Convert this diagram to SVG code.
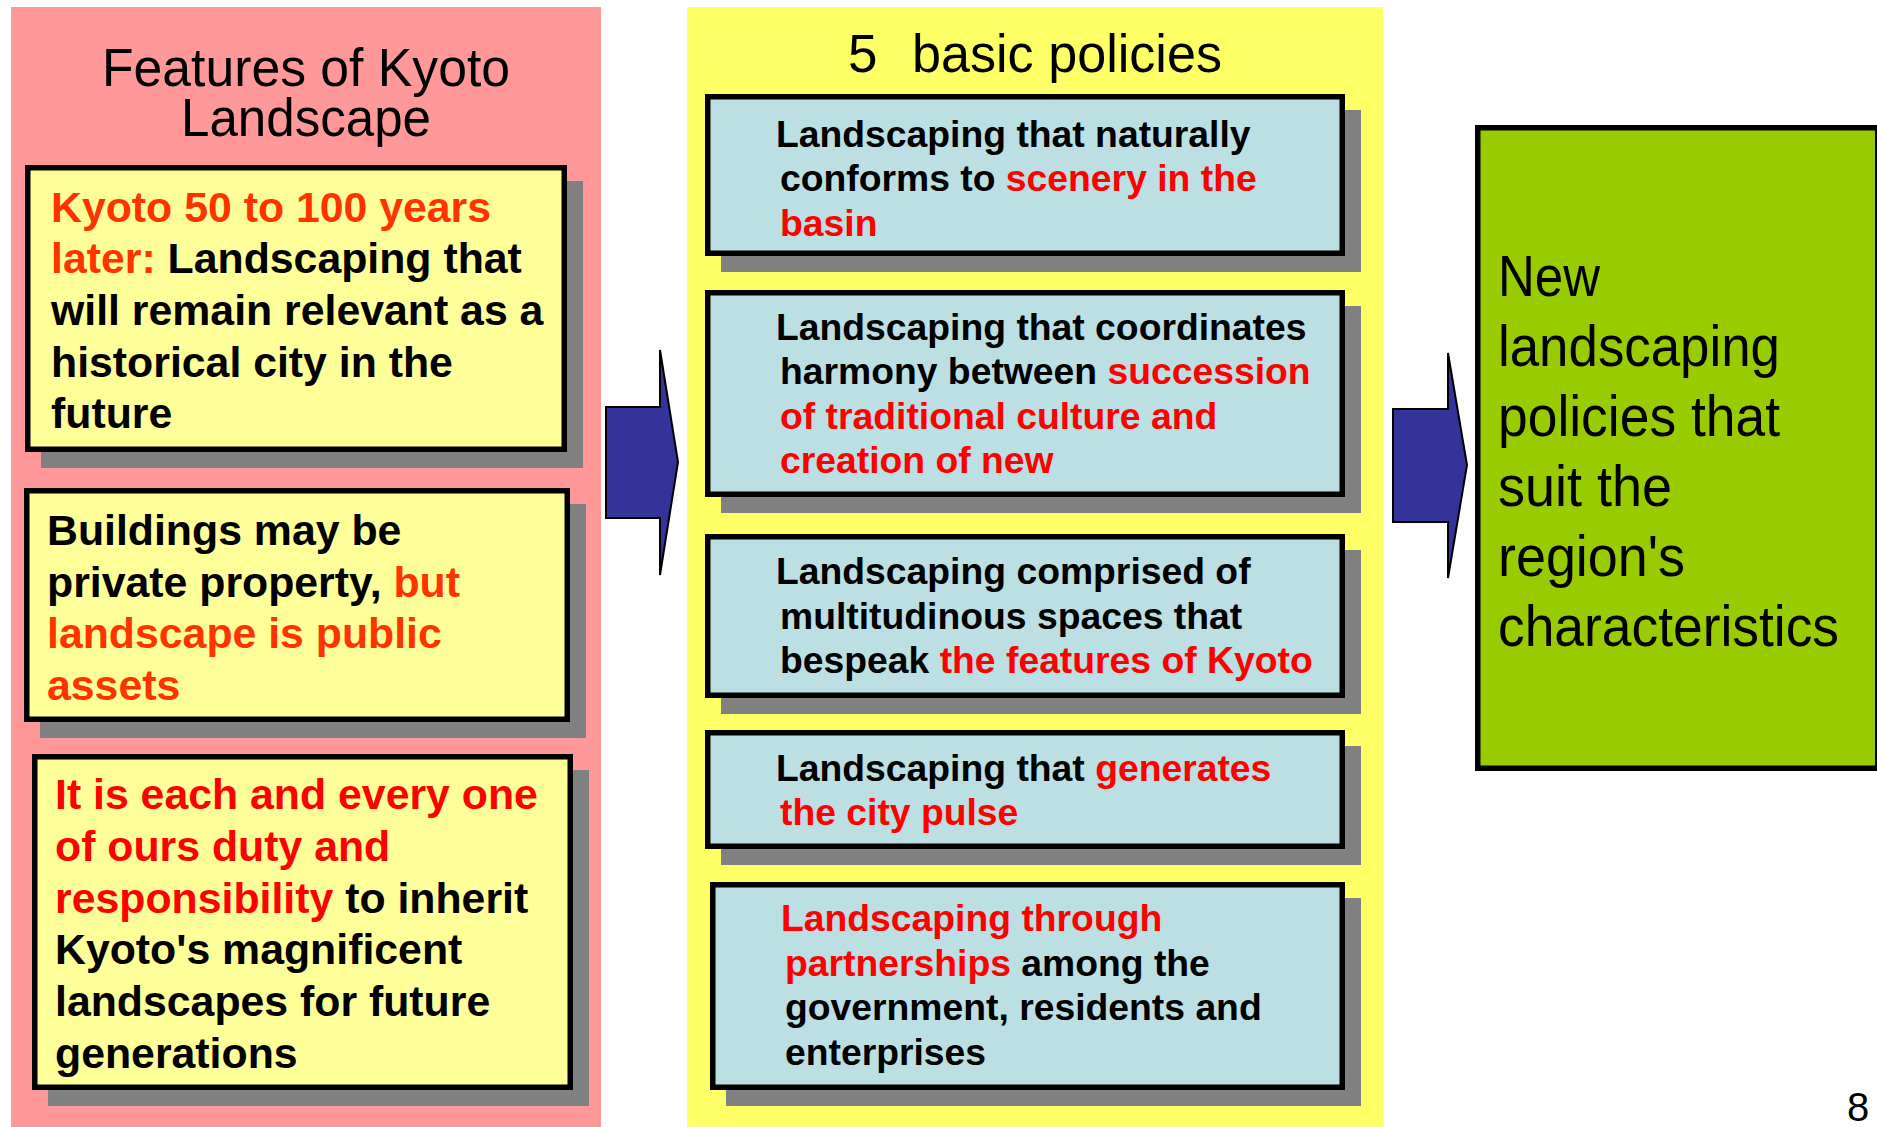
<svg xmlns="http://www.w3.org/2000/svg" width="1877" height="1127" viewBox="0 0 1877 1127">
<style>
.bg{fill:#ffffff}
.shadow{fill:#808080}
.ybox{fill:#FFFF99;stroke:#000;stroke-width:5.5}
.bbox{fill:#BBDFE3;stroke:#000;stroke-width:5.5}
.gbox{fill:#99CC00;stroke:#000;stroke-width:5.5}
.arrow{fill:#333399;stroke:#000;stroke-width:2;stroke-linejoin:miter}
.title{font-family:"Liberation Sans",Arial,sans-serif;font-size:53px;fill:#000}
.lt{font-family:"Liberation Sans",Arial,sans-serif;font-weight:bold;font-size:42.8px;fill:#000}
.bt{font-family:"Liberation Sans",Arial,sans-serif;font-weight:bold;font-size:37.3px;fill:#000}
.gt{font-family:"Liberation Sans",Arial,sans-serif;font-size:57px;fill:#000}
.o{fill:#FF3300}
.r{fill:#FF0000}
</style>
<rect class="bg" x="0" y="0" width="1877" height="1127"/>

<g id="panel-features">
  <rect x="11" y="7" width="590" height="1120" fill="#FF9999"/>
  <text class="title" x="102" y="86" textLength="408" lengthAdjust="spacingAndGlyphs">Features of Kyoto</text>
  <text class="title" x="181" y="136" textLength="250" lengthAdjust="spacingAndGlyphs">Landscape</text>
</g>

<g id="panel-policies">
  <rect x="687" y="7" width="696" height="1120" fill="#FFFF66"/>
  <text class="title" x="848" y="72" font-size="50">5</text>
  <text class="title" x="912" y="72" font-size="51" textLength="310" lengthAdjust="spacingAndGlyphs">basic policies</text>
</g>

<g id="feature-1">
  <rect class="shadow" x="41" y="181" width="542" height="287"/>
  <rect class="ybox" x="27.75" y="167.75" width="536.5" height="281.5"/>
  <text class="lt" x="51" y="221.7"><tspan class="o">Kyoto 50 to 100 years</tspan></text>
  <text class="lt" x="51" y="273.3"><tspan class="o">later:</tspan> Landscaping that</text>
  <text class="lt" x="51" y="325">will remain relevant as a</text>
  <text class="lt" x="51" y="376.6">historical city in the</text>
  <text class="lt" x="51" y="428.2">future</text>
</g>

<g id="feature-2">
  <rect class="shadow" x="40" y="504" width="546" height="234"/>
  <rect class="ybox" x="26.75" y="490.75" width="540.5" height="228.5"/>
  <text class="lt" x="47" y="545">Buildings may be</text>
  <text class="lt" x="47" y="596.7">private property, <tspan class="o">but</tspan></text>
  <text class="lt" x="47" y="648.4"><tspan class="o">landscape is public</tspan></text>
  <text class="lt" x="47" y="700.1"><tspan class="o">assets</tspan></text>
</g>

<g id="feature-3">
  <rect class="shadow" x="48" y="770" width="541" height="336"/>
  <rect class="ybox" x="34.75" y="756.75" width="535.5" height="330.5"/>
  <text class="lt" x="55" y="809"><tspan class="r">It is each and every one</tspan></text>
  <text class="lt" x="55" y="860.8"><tspan class="r">of ours duty and</tspan></text>
  <text class="lt" x="55" y="912.6"><tspan class="r">responsibility</tspan> to inherit</text>
  <text class="lt" x="55" y="964.4">Kyoto's magnificent</text>
  <text class="lt" x="55" y="1016.2">landscapes for future</text>
  <text class="lt" x="55" y="1068">generations</text>
</g>

<g id="policy-1">
  <rect class="shadow" x="721" y="110" width="640" height="162"/>
  <rect class="bbox" x="707.75" y="96.75" width="634.5" height="156.5"/>
  <text class="bt" x="776" y="146.5">Landscaping that naturally</text>
  <text class="bt" x="780" y="191">conforms to <tspan class="r">scenery in the</tspan></text>
  <text class="bt" x="780" y="235.5"><tspan class="r">basin</tspan></text>
</g>

<g id="policy-2">
  <rect class="shadow" x="721" y="306" width="640" height="207"/>
  <rect class="bbox" x="707.75" y="292.75" width="634.5" height="201.5"/>
  <text class="bt" x="776" y="339.5">Landscaping that coordinates</text>
  <text class="bt" x="780" y="384">harmony between <tspan class="r">succession</tspan></text>
  <text class="bt" x="780" y="428.5"><tspan class="r">of traditional culture and</tspan></text>
  <text class="bt" x="780" y="473"><tspan class="r">creation of new</tspan></text>
</g>

<g id="policy-3">
  <rect class="shadow" x="721" y="550" width="640" height="164"/>
  <rect class="bbox" x="707.75" y="536.75" width="634.5" height="158.5"/>
  <text class="bt" x="776" y="584">Landscaping comprised of</text>
  <text class="bt" x="780" y="628.5">multitudinous spaces that</text>
  <text class="bt" x="780" y="673">bespeak <tspan class="r">the features of Kyoto</tspan></text>
</g>

<g id="policy-4">
  <rect class="shadow" x="721" y="746" width="640" height="119"/>
  <rect class="bbox" x="707.75" y="732.75" width="634.5" height="113.5"/>
  <text class="bt" x="776" y="780.5">Landscaping that <tspan class="r">generates</tspan></text>
  <text class="bt" x="780" y="825"><tspan class="r">the city pulse</tspan></text>
</g>

<g id="policy-5">
  <rect class="shadow" x="726" y="898" width="635" height="208"/>
  <rect class="bbox" x="712.75" y="884.75" width="629.5" height="202.5"/>
  <text class="bt" x="781" y="931"><tspan class="r">Landscaping through</tspan></text>
  <text class="bt" x="785" y="975.5"><tspan class="r">partnerships</tspan> among the</text>
  <text class="bt" x="785" y="1020">government, residents and</text>
  <text class="bt" x="785" y="1064.5">enterprises</text>
</g>

<g id="result">
  <rect class="gbox" x="1477.75" y="127.75" width="400" height="640.5"/>
  <text class="gt" x="1498" y="296" textLength="102" lengthAdjust="spacingAndGlyphs">New</text>
  <text class="gt" x="1498" y="366" textLength="282" lengthAdjust="spacingAndGlyphs">landscaping</text>
  <text class="gt" x="1498" y="436" textLength="282" lengthAdjust="spacingAndGlyphs">policies that</text>
  <text class="gt" x="1498" y="506" textLength="174" lengthAdjust="spacingAndGlyphs">suit the</text>
  <text class="gt" x="1498" y="576" textLength="187" lengthAdjust="spacingAndGlyphs">region's</text>
  <text class="gt" x="1498" y="646" textLength="341" lengthAdjust="spacingAndGlyphs">characteristics</text>
</g>

<g id="connectors">
  <polygon class="arrow" points="606,407 660,407 660,350 678,462 660,575 660,518 606,518"/>
  <polygon class="arrow" points="1393,409 1448,409 1448,353 1467,465 1448,578 1448,522 1393,522"/>
</g>

<g id="page-number">
  <text x="1847" y="1121" font-family="'Liberation Sans',Arial,sans-serif" font-size="40" fill="#000">8</text>
</g>
</svg>
